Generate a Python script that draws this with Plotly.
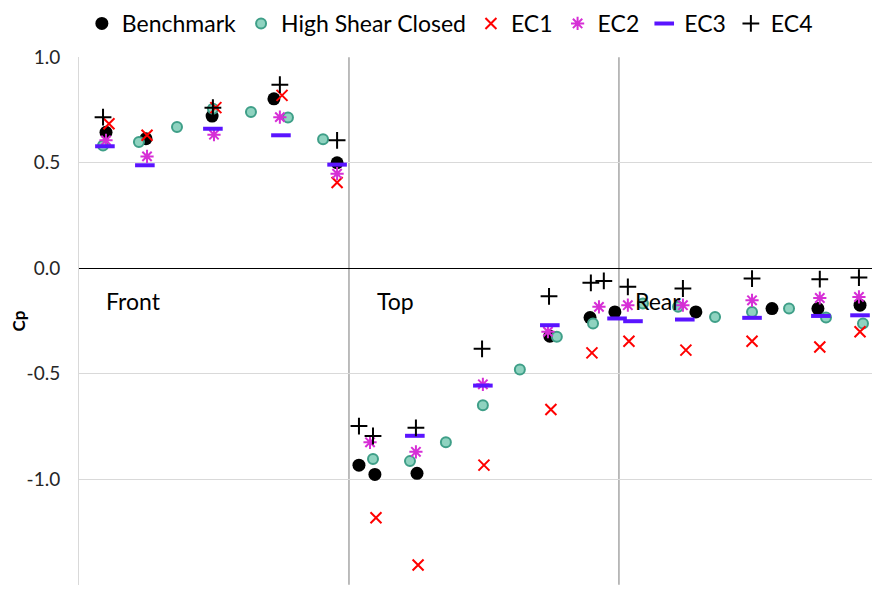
import plotly.graph_objects as go

# Position along the body (Front 0-1, Top 1-2, Rear 2-3) and pressure coefficient Cp
bench_x = [0.100, 0.248, 0.493, 0.722, 0.956, 1.037, 1.096, 1.252, 1.744, 1.893, 1.985, 2.285, 2.567, 2.737, 2.893]
bench_cp = [0.644, 0.614, 0.721, 0.803, 0.500, -0.933, -0.977, -0.972, -0.322, -0.234, -0.207, -0.207, -0.191, -0.191, -0.175]

hsc_x = [0.089, 0.222, 0.363, 0.496, 0.637, 0.774, 0.904, 1.089, 1.226, 1.359, 1.496, 1.633, 1.770, 1.904,
         2.089, 2.219, 2.356, 2.493, 2.630, 2.767, 2.904]
hsc_cp = [0.582, 0.598, 0.669, 0.756, 0.740, 0.714, 0.611, -0.904, -0.914, -0.825, -0.649, -0.480, -0.325, -0.262,
          -0.167, -0.183, -0.231, -0.207, -0.191, -0.233, -0.262]

ec1_x = [0.111, 0.252, 0.507, 0.752, 0.956, 1.100, 1.256, 1.500, 1.748, 1.900, 2.037, 2.248, 2.493, 2.744, 2.893]
ec1_cp = [0.685, 0.630, 0.761, 0.819, 0.406, -1.182, -1.406, -0.933, -0.669, -0.401, -0.346, -0.388, -0.346, -0.373, -0.301]

ec2_x = [0.100, 0.252, 0.500, 0.744, 0.956, 1.078, 1.248, 1.496, 1.737, 1.926, 2.033, 2.237, 2.493, 2.744, 2.889]
ec2_cp = [0.606, 0.530, 0.633, 0.716, 0.448, -0.825, -0.870, -0.550, -0.301, -0.183, -0.175, -0.175, -0.152, -0.141, -0.136]

ec3_x = [0.096, 0.244, 0.496, 0.748, 0.956, 1.244, 1.496, 1.744, 1.993, 2.052, 2.244, 2.493, 2.748, 2.893]
ec3_cp = [0.578, 0.488, 0.661, 0.630, 0.491, -0.794, -0.556, -0.270, -0.238, -0.251, -0.243, -0.235, -0.226, -0.223]

ec4_x = [0.089, 0.496, 0.744, 0.956, 1.037, 1.089, 1.248, 1.493, 1.741, 1.896, 1.944, 2.033, 2.237, 2.493, 2.744, 2.889]
ec4_cp = [0.716, 0.761, 0.870, 0.606, -0.748, -0.795, -0.756, -0.382, -0.133, -0.069, -0.060, -0.088, -0.096, -0.049, -0.052, -0.044]

section_bounds = [1, 2]
section_names = ["Front", "Top", "Rear"]
section_label_x = [0.093, 1.096, 2.052]
section_label_y = -0.156

tick_vals = [1.0, 0.5, 0.0, -0.5, -1.0, -1.5]
tick_labels = ["1.0", "0.5", "0.0", "-0.5", "-1.0", "-1.5"]

FONT = "Lato"

fig = go.Figure()

fig.add_trace(go.Scatter(x=bench_x, y=bench_cp, mode="markers", name="Benchmark",
                         marker=dict(symbol="circle", size=13, color="black")))
fig.add_trace(go.Scatter(x=hsc_x, y=hsc_cp, mode="markers", name="High Shear Closed",
                         marker=dict(symbol="circle", size=10, color="#8fd3c0",
                                     line=dict(color="#3f9f88", width=2))))
fig.add_trace(go.Scatter(x=ec1_x, y=ec1_cp, mode="markers", name="EC1",
                         marker=dict(symbol="x-thin-open", size=11, color="#ff0000",
                                     line=dict(color="#ff0000", width=2))))
fig.add_trace(go.Scatter(x=ec2_x, y=ec2_cp, mode="markers", name="EC2",
                         marker=dict(symbol="asterisk-open", size=11, color="#d62fd6",
                                     line=dict(color="#d62fd6", width=2))))
fig.add_trace(go.Scatter(x=ec3_x, y=ec3_cp, mode="markers", name="EC3",
                         marker=dict(symbol="line-ew-open", size=14, color="#5a14ff",
                                     line=dict(color="#5a14ff", width=4))))
fig.add_trace(go.Scatter(x=ec4_x, y=ec4_cp, mode="markers", name="EC4",
                         marker=dict(symbol="cross-thin-open", size=12, color="black",
                                     line=dict(color="black", width=2))))

for b in section_bounds:
    fig.add_shape(type="line", x0=b, x1=b, y0=-1.5, y1=1.0, xref="x", yref="y",
                  line=dict(color="#a6a6a6", width=1.5), layer="below")

for name, lx in zip(section_names, section_label_x):
    fig.add_annotation(x=lx, y=section_label_y, text=name, showarrow=False,
                       xanchor="left", yanchor="middle",
                       font=dict(family=FONT, size=23, color="black"))

# the page body has an 8px margin, so the figure is sized to fit the window
fig.update_layout(
    width=872, height=586,
    margin=dict(l=71, r=0, t=49, b=9, autoexpand=False),
    paper_bgcolor="white", plot_bgcolor="white",
    font=dict(family=FONT, color="black"),
    showlegend=True,
    legend=dict(orientation="h", x=0.463, xanchor="center", y=1.1042, yanchor="top",
                font=dict(family=FONT, size=23, color="black"), itemwidth=30,
                tracegroupgap=0, bgcolor="rgba(0,0,0,0)"),
    xaxis=dict(range=[0, 2.967], showticklabels=False, showgrid=False, zeroline=False,
               showline=False, ticks="", automargin=False),
    yaxis=dict(range=[-1.501, 1.001], tickvals=tick_vals, ticktext=tick_labels,
               showgrid=True, gridcolor="#d9d9d9", gridwidth=1,
               zeroline=True, zerolinecolor="black", zerolinewidth=1,
               showline=True, linecolor="#d9d9d9", linewidth=1,
               ticks="", ticklabelstandoff=14, automargin=False,
               tickfont=dict(family=FONT, size=19, color="#262626"),
               title=dict(text="<b>Cp</b>", font=dict(family=FONT, size=17, color="black"),
                          standoff=14)),
)

fig.write_html("out.html")
